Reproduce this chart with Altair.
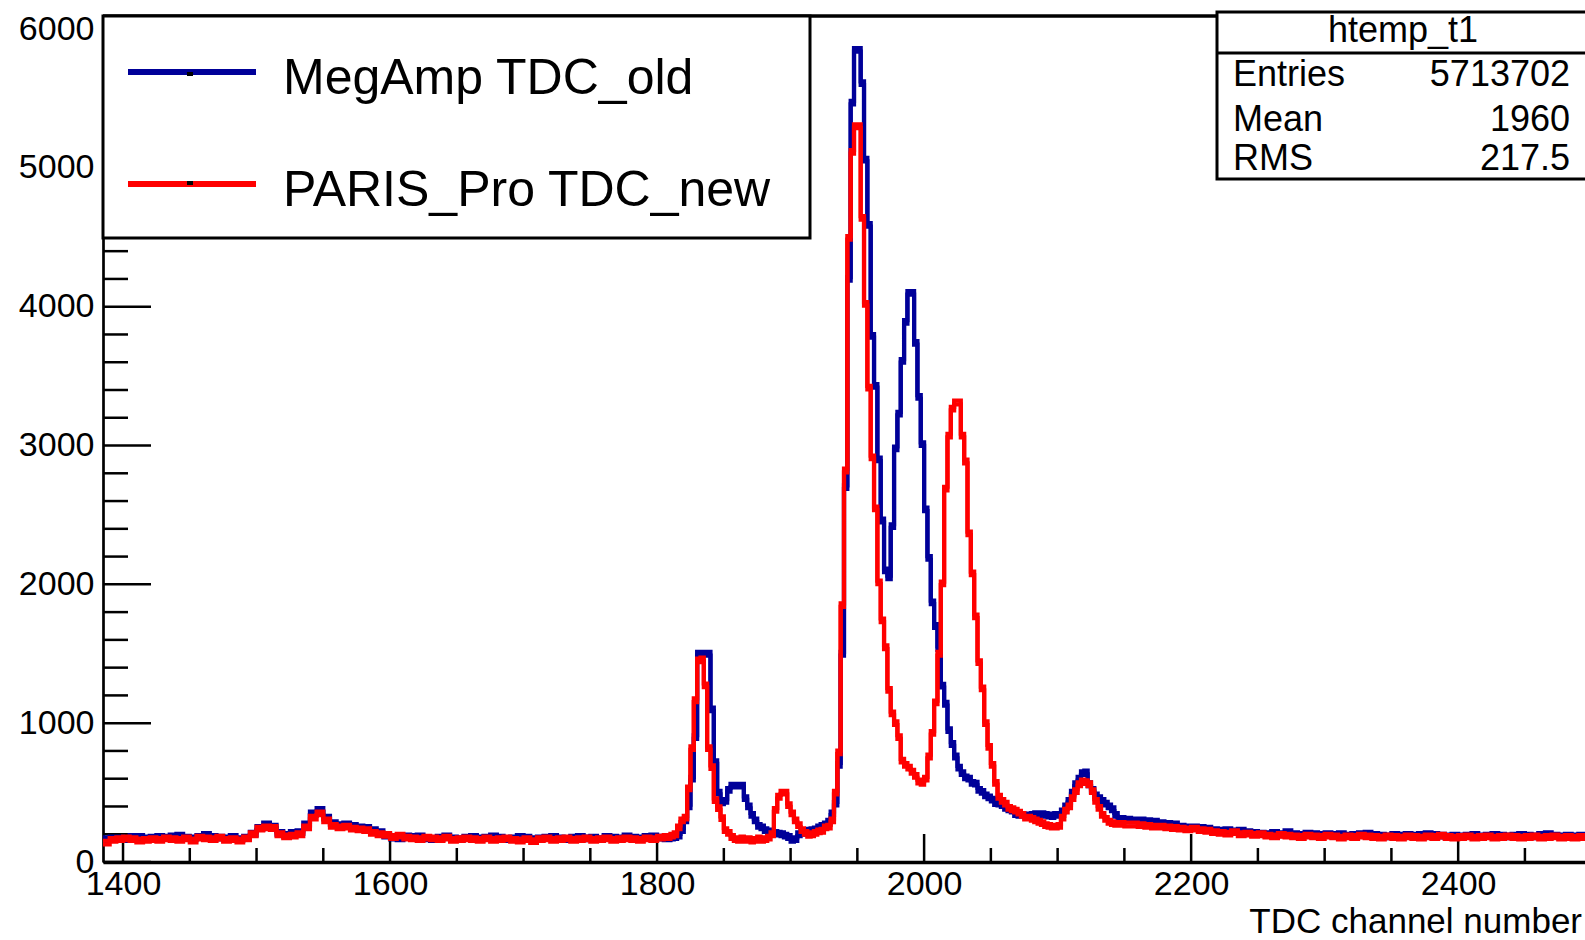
import altair as alt
import pandas as pd

# ---------------- data (histogram bins: start channel, width, counts) ----------------
seg_starts = [1385, 1810, 2145]
seg_widths = [5, 2.5, 5]

red_a = [140, 160, 165, 170, 165, 155, 160, 165, 160, 170,
         165, 160, 170, 155, 175, 170, 165, 175, 160, 165,
         155, 170, 200, 240, 250, 245, 200, 185, 190, 200,
         250, 320, 350, 300, 260, 250, 255, 240, 235, 230,
         210, 200, 195, 180, 190, 175, 170, 165, 175, 170,
         165, 175, 160, 165, 170, 165, 160, 170, 160, 165,
         170, 160, 155, 165, 150, 165, 170, 160, 165, 170,
         160, 165, 170, 160, 165, 170, 160, 165, 170, 165,
         160, 170, 165, 175, 180]
blue_a = [165, 170, 170, 165, 180, 180, 170, 175, 180, 175,
          185, 190, 175, 170, 180, 195, 180, 175, 170, 180,
          165, 175, 205, 245, 270, 255, 210, 195, 210, 215,
          270, 350, 375, 320, 280, 265, 270, 260, 250, 245,
          230, 215, 190, 175, 170, 185, 180, 185, 170, 165,
          175, 185, 170, 165, 175, 180, 170, 175, 185, 175,
          165, 170, 180, 175, 165, 170, 175, 180, 170, 165,
          175, 180, 170, 175, 165, 180, 175, 170, 185, 175,
          170, 180, 185, 175, 170]

red_b = [190, 200, 250, 300, 320, 530, 820, 1165, 1453, 1460,
         1273, 820, 683, 446, 388, 316, 230, 210, 180, 165,
         160, 170, 160, 165, 155, 160, 170, 160, 165, 175,
         200, 375, 470, 500, 500, 410, 350, 300, 265, 230,
         210, 195, 200, 210, 220, 225, 250, 255, 300, 500,
         790, 1850, 2820, 4496, 5115, 5300, 5300, 4640, 4020, 3417,
         2914, 2547, 2014, 1741, 1547, 1240, 1070, 1000, 900, 730,
         700, 680, 650, 620, 580, 570, 600, 760, 930, 1150,
         1500, 2007, 2690, 3072, 3266, 3310, 3310, 3072, 2885, 2367,
         2079, 1770, 1440, 1250, 1000, 830, 700, 570, 470, 440,
         420, 390, 380, 370, 355, 340, 320, 320, 310, 300,
         290, 280, 265, 260, 255, 255, 260, 320, 370, 400,
         460, 510, 560, 580, 575, 560, 510, 440, 390, 340,
         310, 290, 280, 275]
blue_b = [175, 180, 190, 230, 300, 400, 600, 900, 1500, 1500,
          1500, 1500, 1100, 720, 500, 430, 440, 520, 550, 550,
          550, 550, 460, 400, 340, 300, 260, 250, 230, 220,
          215, 210, 205, 200, 190, 180, 160, 165, 200, 210,
          220, 225, 230, 235, 250, 260, 270, 290, 350, 420,
          700, 1500, 2700, 4200, 5470, 5850, 5850, 5610, 5060, 4590,
          3790, 3430, 2900, 2460, 2100, 2050, 2420, 2980, 3230, 3610,
          3890, 4100, 4100, 3740, 3350, 3010, 2540, 2190, 1870, 1700,
          1540, 1270, 1140, 950, 850, 760, 680, 640, 610, 600,
          570, 565, 520, 505, 480, 465, 450, 425, 420, 410,
          390, 380, 370, 345, 340, 340, 335, 335, 340, 345,
          345, 345, 340, 335, 330, 340, 340, 365, 400, 440,
          500, 560, 600, 640, 645, 560, 520, 480, 460, 440,
          420, 400, 380, 340]

red_c = [275, 270, 270, 265, 260, 255, 255, 250, 245, 240,
         235, 240, 230, 225, 215, 210, 205, 215, 200, 205,
         195, 200, 190, 185, 195, 190, 185, 180, 190, 185,
         180, 190, 185, 175, 185, 180, 190, 185, 180, 175,
         185, 180, 175, 185, 180, 175, 185, 180, 190, 180,
         175, 180, 185, 175, 180, 185, 175, 180, 185, 180,
         175, 180, 185, 175, 180, 185, 175, 180, 175, 180]
blue_c = [310, 305, 300, 300, 295, 290, 280, 275, 270, 255,
          250, 250, 245, 240, 230, 225, 230, 220, 225, 215,
          210, 205, 200, 210, 200, 215, 200, 195, 205, 200,
          195, 200, 195, 200, 190, 195, 200, 205, 195, 190,
          185, 195, 190, 195, 190, 195, 200, 195, 190, 185,
          190, 185, 190, 195, 185, 190, 195, 190, 185, 190,
          195, 190, 185, 195, 200, 190, 185, 190, 185, 190]

x_major = [1400, 1600, 1800, 2000, 2200, 2400]
x_minor = [1450, 1500, 1550, 1650, 1700, 1750, 1850, 1900, 1950,
           2050, 2100, 2150, 2250, 2300, 2350, 2450]
y_major = [0, 1000, 2000, 3000, 4000, 5000, 6000]
y_minor = [200, 400, 600, 800, 1200, 1400, 1600, 1800, 2200, 2400, 2600, 2800,
           3200, 3400, 3600, 3800, 4200, 4400, 4600, 4800, 5200, 5400, 5600, 5800]

series_names = ["MegAmp TDC_old", "PARIS_Pro TDC_new"]
stats_title = "htemp_t1"
stats_labels = ["Entries", "Mean", "RMS"]
stats_values = ["5713702", "1960", "217.5"]
x_title = "TDC channel number"


def hist_frame(parts):
    xs, ys = [], []
    for (start, width), vals in zip(zip(seg_starts, seg_widths), parts):
        for i, v in enumerate(vals):
            xs.append(start + i * width)
            ys.append(v)
    xs.append(seg_starts[-1] + len(parts[-1]) * seg_widths[-1])
    ys.append(parts[-1][-1])
    return pd.DataFrame({"ch": xs, "n": ys})


df_blue = hist_frame([blue_a, blue_b, blue_c])
df_red = hist_frame([red_a, red_b, red_c])

W, H = 1482, 846
FONT = "Liberation Sans"
BLUE = "#000099"
RED = "#ff0000"

xs = alt.Scale(domain=[1385, 2495], nice=False, zero=False)
ys = alt.Scale(domain=[0, 6094], nice=False, zero=False)

xaxis = alt.Axis(values=x_major, format="d", labelFontSize=34, labelFont=FONT,
                 labelColor="black", tickSize=0, domainColor="black", domainWidth=3.3,
                 labelPadding=5, grid=False, title=None, labelFlush=False,
                 labelOverlap=False)
yaxis = alt.Axis(values=y_major, format="d", labelFontSize=34, labelFont=FONT,
                 labelColor="black", tickSize=0, domainColor="black", domainWidth=2.7,
                 labelPadding=9, grid=False, title=None, labelOverlap=False)

one = alt.Data(values=[{}])


def xenc(f):
    return alt.X(f, type="quantitative", scale=xs, axis=xaxis)


def yenc(f):
    return alt.Y(f, type="quantitative", scale=ys, axis=yaxis)


# inward ticks
xt_major = alt.Chart(pd.DataFrame({"t": x_major})).mark_rule(color="black", strokeWidth=2.5).encode(
    x=xenc("t"), y=alt.value(H), y2=alt.value(H - 28))
xt_minor = alt.Chart(pd.DataFrame({"t": x_minor})).mark_rule(color="black", strokeWidth=2.5).encode(
    x=xenc("t"), y=alt.value(H), y2=alt.value(H - 14))
yt_major = alt.Chart(pd.DataFrame({"t": y_major})).mark_rule(color="black", strokeWidth=2.5).encode(
    y=yenc("t"), x=alt.value(0), x2=alt.value(48))
yt_minor = alt.Chart(pd.DataFrame({"t": y_minor})).mark_rule(color="black", strokeWidth=2.5).encode(
    y=yenc("t"), x=alt.value(0), x2=alt.value(25))

top_frame = alt.Chart(one).mark_rule(color="black", strokeWidth=3.3).encode(
    x=alt.value(0), x2=alt.value(1114), y=alt.value(0))


def hist_layers(df, color):
    # horizontal strokes look thicker than vertical ones in the reference:
    # draw the step line twice, slightly shifted vertically
    out = []
    for off in (-1.8, 1.8):
        out.append(alt.Chart(df).mark_line(interpolate="step-after", color=color,
                                           strokeWidth=4.2, clip=True, yOffset=off).encode(
            x=xenc("ch"), y=yenc("n")))
    return out


blue_lines = hist_layers(df_blue, BLUE)
red_lines = hist_layers(df_red, RED)

# legend box
leg_box = alt.Chart(one).mark_rect(fill="white", stroke="black", strokeWidth=3).encode(
    x=alt.value(0), x2=alt.value(707), y=alt.value(0), y2=alt.value(222))
leg_blue = alt.Chart(one).mark_rule(color=BLUE, strokeWidth=6).encode(
    x=alt.value(25), x2=alt.value(153), y=alt.value(56))
leg_red = alt.Chart(one).mark_rule(color=RED, strokeWidth=6).encode(
    x=alt.value(25), x2=alt.value(153), y=alt.value(168))
leg_dot1 = alt.Chart(one).mark_rect(color="black").encode(
    x=alt.value(84), x2=alt.value(90), y=alt.value(56), y2=alt.value(60))
leg_dot2 = alt.Chart(one).mark_rect(color="black").encode(
    x=alt.value(84), x2=alt.value(90), y=alt.value(165), y2=alt.value(169))
leg_t1 = alt.Chart(one).mark_text(align="left", baseline="alphabetic", fontSize=50,
                                  font=FONT, color="black").encode(
    x=alt.value(180), y=alt.value(78), text=alt.value(series_names[0]))
leg_t2 = alt.Chart(one).mark_text(align="left", baseline="alphabetic", fontSize=50,
                                  font=FONT, color="black").encode(
    x=alt.value(180), y=alt.value(190), text=alt.value(series_names[1]))

# stats box
st_box = alt.Chart(one).mark_rect(fill="white", stroke="black", strokeWidth=3).encode(
    x=alt.value(1114), x2=alt.value(1530), y=alt.value(-4), y2=alt.value(163))
st_sep = alt.Chart(one).mark_rule(color="black", strokeWidth=3).encode(
    x=alt.value(1114), x2=alt.value(1530), y=alt.value(37))
st_title = alt.Chart(one).mark_text(align="center", baseline="alphabetic", fontSize=36,
                                    font=FONT, color="black").encode(
    x=alt.value(1300), y=alt.value(26), text=alt.value(stats_title))
st_layers = []
for i, (lab, val) in enumerate(zip(stats_labels, stats_values)):
    yy = [70, 115, 154][i]
    st_layers.append(alt.Chart(one).mark_text(align="left", baseline="alphabetic", fontSize=36,
                                              font=FONT, color="black").encode(
        x=alt.value(1130), y=alt.value(yy), text=alt.value(lab)))
    st_layers.append(alt.Chart(one).mark_text(align="right", baseline="alphabetic", fontSize=36,
                                              font=FONT, color="black").encode(
        x=alt.value(1467), y=alt.value(yy), text=alt.value(val)))

x_label = alt.Chart(one).mark_text(align="right", baseline="alphabetic", fontSize=35,
                                   font=FONT, color="black").encode(
    x=alt.value(1479), y=alt.value(917), text=alt.value(x_title))

chart = alt.layer(
    xt_major, xt_minor, yt_major, yt_minor, top_frame,
    *blue_lines, *red_lines,
    leg_box, leg_blue, leg_red, leg_dot1, leg_dot2, leg_t1, leg_t2,
    st_box, st_sep, st_title, *st_layers, x_label
).properties(
    width=W, height=H,
    padding={"left": 103, "top": 16, "right": 0, "bottom": 78},
    autosize=alt.AutoSizeParams(type="none"),
    background="white",
).configure_view(stroke=None)

chart.save("out.html", embed_options={"renderer": "svg", "actions": False})
